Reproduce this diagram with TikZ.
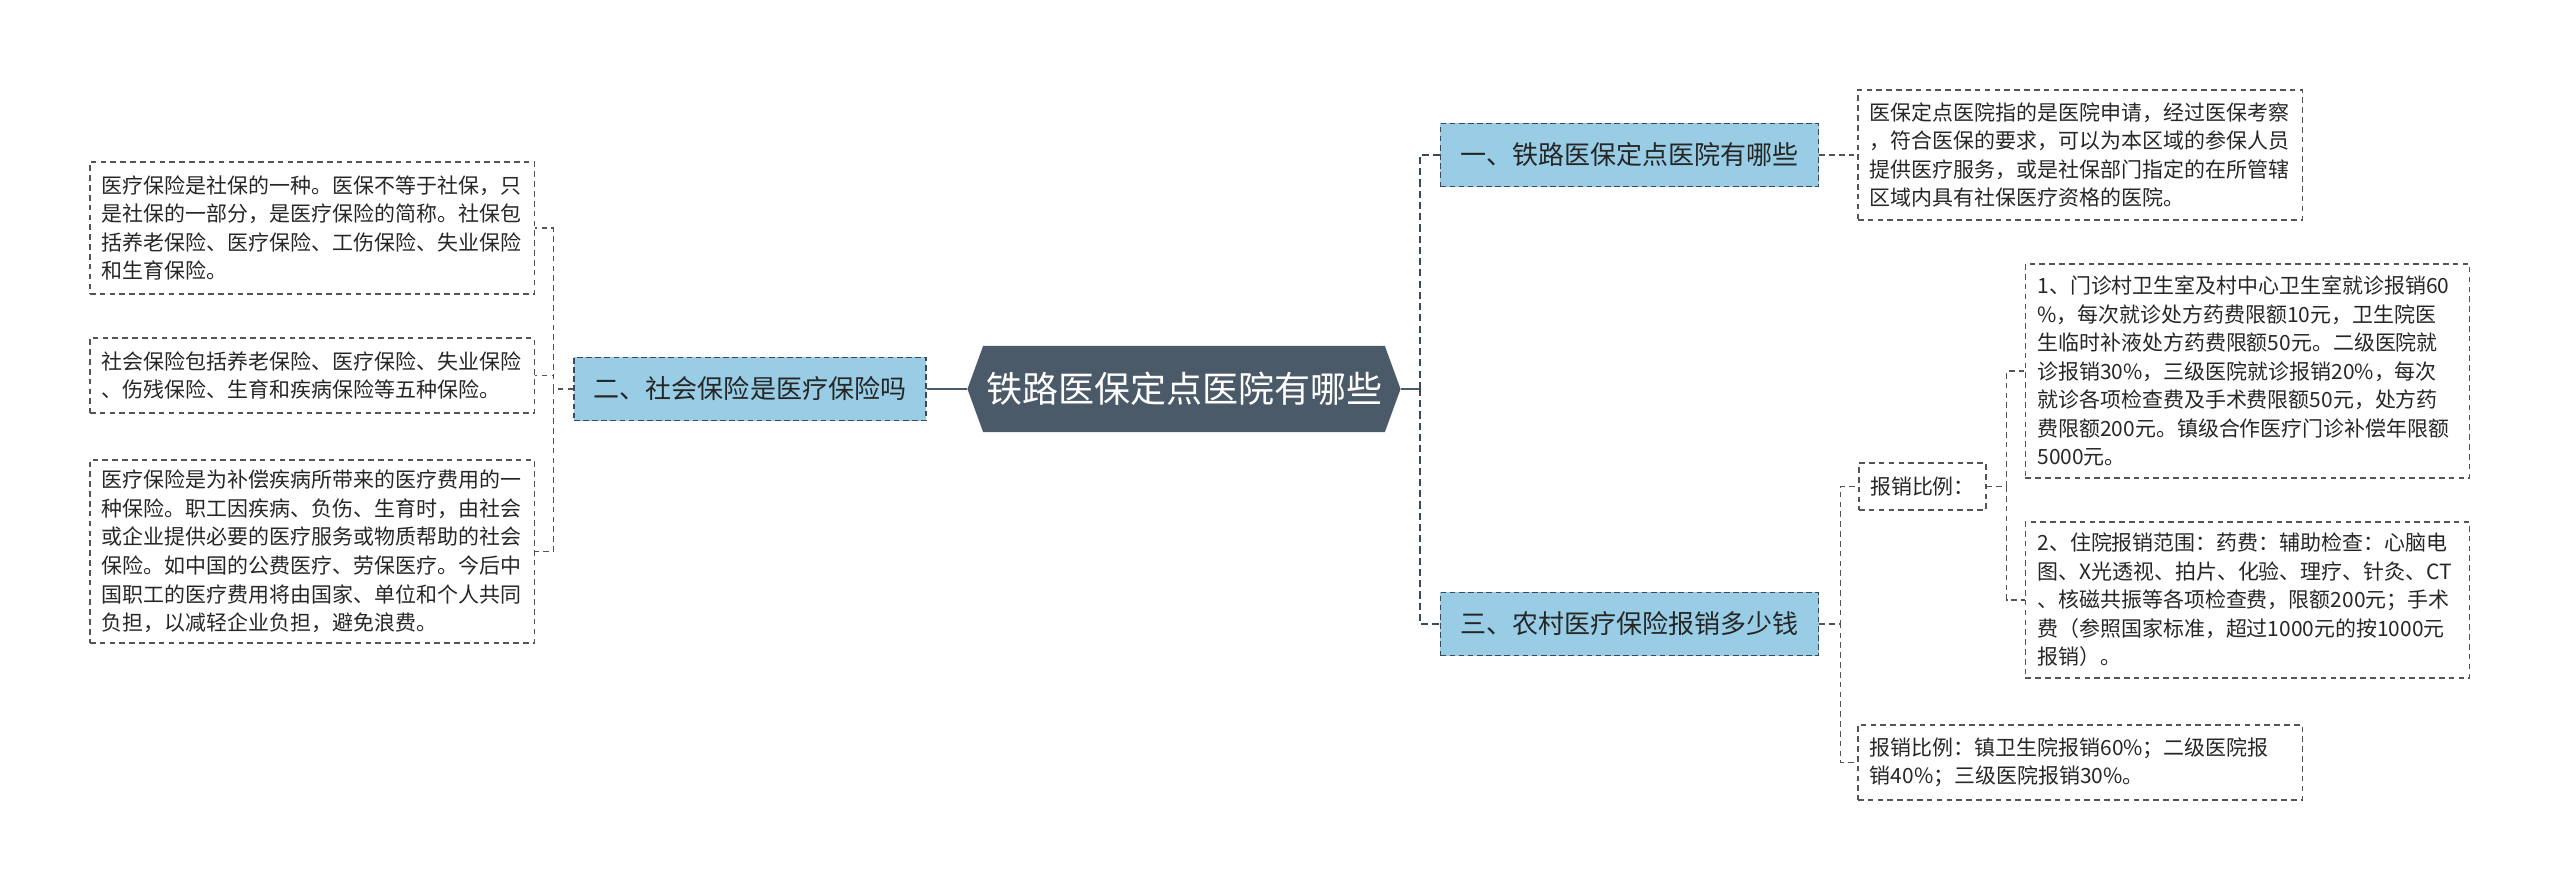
\documentclass[tikz,border=0pt]{standalone}
\usepackage{fontspec}
\setmainfont{Noto Sans CJK SC}
\usetikzlibrary{shapes.symbols}
\definecolor{slate}{HTML}{4B5A69}
\definecolor{sky}{HTML}{98CDE5}
\definecolor{rim}{HTML}{3C4A57}
\definecolor{wire}{HTML}{555555}
\definecolor{ink}{HTML}{262626}
\tikzset{
  topic/.style={signal, signal to=west and east, signal pointer angle=140,
    fill=slate, text=white, font=\fontsize{25.6pt}{30pt}\selectfont,
    minimum width=10.825cm, minimum height=2.15cm, inner sep=0pt},
  branch/.style={draw=rim, fill=sky, line width=1pt, dash pattern=on 4pt off 2.5pt,
    text=ink, font=\fontsize{18.5pt}{22pt}\selectfont,
    minimum height=1.575cm, inner xsep=0.5cm},
  leaf/.style={draw=wire, line width=0.8pt, dash pattern=on 4pt off 3pt,
    text=ink, font=\fontsize{14.9pt}{20.3pt}\selectfont,
    align=left, text width=10.5cm, inner xsep=0.3cm},
  trunk/.style={draw=slate, line width=2pt},
  spine/.style={draw=rim, line width=1.9pt, dash pattern=on 5pt off 3pt},
  twig/.style={draw=wire, line width=0.9pt, dash pattern=on 4pt off 3pt}
}
\begin{document}
\begin{tikzpicture}[x=0.025cm,y=-0.025cm]
\useasboundingbox (0,0) rectangle (2560,891);
% centre and main branches
\node[topic] (root) at (1184,389) {铁路医保定点医院有哪些};
\node[branch] (one) at (1629.5,155) {一、铁路医保定点医院有哪些};
\node[branch] (two) at (750,389) {二、社会保险是医疗保险吗};
\node[branch] (three) at (1629.5,624) {三、农村医疗保险报销多少钱};
% left leaves
\node[leaf, minimum height=3.3cm] (socA) at (312,228)
  {医疗保险是社保的一种。医保不等于社保，只\\是社保的一部分，是医疗保险的简称。社保包\\括养老保险、医疗保险、工伤保险、失业保险\\和生育保险。};
\node[leaf, minimum height=1.875cm] (socB) at (312,375.5)
  {社会保险包括养老保险、医疗保险、失业保险\\、伤残保险、生育和疾病保险等五种保险。};
\node[leaf, minimum height=4.575cm] (socC) at (312,551.5)
  {医疗保险是为补偿疾病所带来的医疗费用的一\\种保险。职工因疾病、负伤、生育时，由社会\\或企业提供必要的医疗服务或物质帮助的社会\\保险。如中国的公费医疗、劳保医疗。今后中\\国职工的医疗费用将由国家、单位和个人共同\\负担，以减轻企业负担，避免浪费。};
% right leaves
\node[leaf, minimum height=3.25cm] (def) at (2080,155)
  {医保定点医院指的是医院申请，经过医保考察\\，符合医保的要求，可以为本区域的参保人员\\提供医疗服务，或是社保部门指定的在所管辖\\区域内具有社保医疗资格的医院。};
\node[leaf, text width={}, align=center, minimum width=3.175cm, minimum height=1.175cm, inner xsep=0.25cm] (ratio) at (1922.5,486.5)
  {报销比例：};
\node[leaf, minimum height=5.35cm] (clinic) at (2247.5,371)
  {1、门诊村卫生室及村中心卫生室就诊报销60\\\%，每次就诊处方药费限额10元，卫生院医\\生临时补液处方药费限额50元。二级医院就\\诊报销30\%，三级医院就诊报销20\%，每次\\就诊各项检查费及手术费限额50元，处方药\\费限额200元。镇级合作医疗门诊补偿年限额\\5000元。};
\node[leaf, minimum height=3.9cm] (ward) at (2247.5,600)
  {2、住院报销范围：药费：辅助检查：心脑电\\图、X光透视、拍片、化验、理疗、针灸、CT\\、核磁共振等各项检查费，限额200元；手术\\费（参照国家标准，超过1000元的按1000元\\报销）。};
\node[leaf, minimum height=1.875cm] (rate) at (2080,762.5)
  {报销比例：镇卫生院报销60\%；二级医院报\\销40\%；三级医院报销30\%。};
% connectors
\draw[trunk] (root.west) -- (two.east);
\draw[trunk] (root.east) -- ++(19,0) coordinate (rj);
\draw[spine] (rj) |- (one.west);
\draw[spine] (rj) |- (three.west);
\draw[twig] (two.west) -- ++(-20,0) |- (socA.east);
\draw[twig] (two.west) -- ++(-20,0) |- (socB.east);
\draw[twig] (two.west) -- ++(-20,0) |- (socC.east);
\draw[twig] (one.east) -- (def.west);
\draw[twig] (three.east) -- ++(21,0) |- (ratio.west);
\draw[twig] (three.east) -- ++(21,0) |- (rate.west);
\draw[twig] (ratio.east) -- ++(20,0) |- (clinic.west);
\draw[twig] (ratio.east) -- ++(20,0) |- (ward.west);
\end{tikzpicture}
\end{document}
